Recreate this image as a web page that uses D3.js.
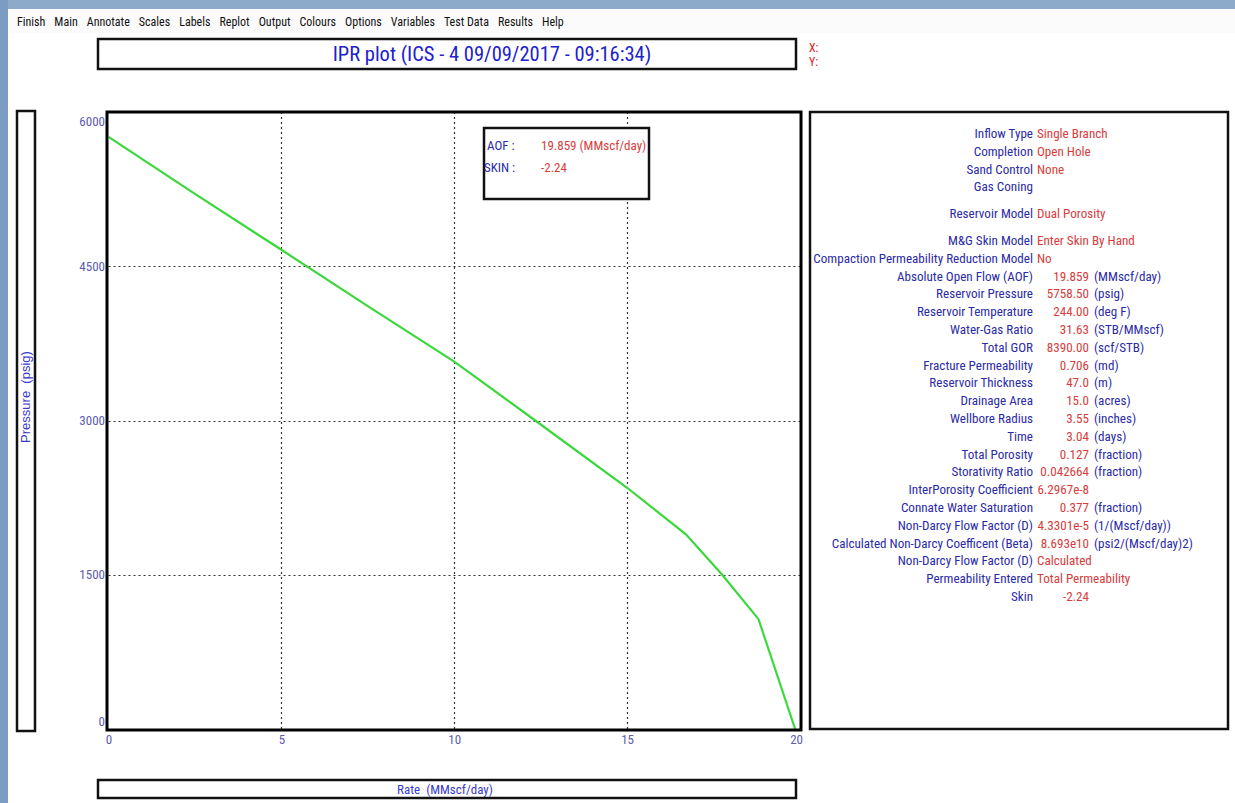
<!DOCTYPE html>
<html>
<head>
<meta charset="utf-8">
<script src="https://cdn.jsdelivr.net/npm/d3@7"></script>
<style>
  body { margin: 0; background: #fff; }
  svg { display: block; }
</style>
</head>
<body>
<svg width="1235" height="803"></svg>
<script>
// IPR curve
const rates = [0, 2.5, 5.0, 7.5, 10.0, 12.5, 15.0, 16.7, 17.75, 18.8, 19.859];
const pressures = [5758.5, 5204, 4660, 4113, 3573, 2961, 2346, 1893, 1500, 1068, 0];

const xTicks = [0, 5, 10, 15, 20];
const yTicks = [0, 1500, 3000, 4500, 6000];

const menuItems = ['Finish', 'Main', 'Annotate', 'Scales', 'Labels', 'Replot', 'Output',
  'Colours', 'Options', 'Variables', 'Test Data', 'Results', 'Help'];

const legendLabels = ['AOF :', 'SKIN :'];
const legendValues = ['19.859 (MMscf/day)', '-2.24'];

// side panel: label, value, unit ('' = none); kind 't' = text value, 'n' = numeric
const infoLabels = ['Inflow Type', 'Completion', 'Sand Control', 'Gas Coning', 'Reservoir Model',
  'M&G Skin Model', 'Compaction Permeability Reduction Model', 'Absolute Open Flow (AOF)',
  'Reservoir Pressure', 'Reservoir Temperature', 'Water-Gas Ratio', 'Total GOR',
  'Fracture Permeability', 'Reservoir Thickness', 'Drainage Area', 'Wellbore Radius', 'Time',
  'Total Porosity', 'Storativity Ratio', 'InterPorosity Coefficient', 'Connate Water Saturation',
  'Non-Darcy Flow Factor (D)', 'Calculated Non-Darcy Coefficent (Beta)', 'Non-Darcy Flow Factor (D)',
  'Permeability Entered', 'Skin'];
const infoValues = ['Single Branch', 'Open Hole', 'None', '', 'Dual Porosity', 'Enter Skin By Hand', 'No',
  '19.859', '5758.50', '244.00', '31.63', '8390.00', '0.706', '47.0', '15.0', '3.55', '3.04', '0.127',
  '0.042664', '6.2967e-8', '0.377', '4.3301e-5', '8.693e10', 'Calculated', 'Total Permeability', '-2.24'];
const infoUnits = ['', '', '', '', '', '', '', '(MMscf/day)', '(psig)', '(deg F)', '(STB/MMscf)', '(scf/STB)',
  '(md)', '(m)', '(acres)', '(inches)', '(days)', '(fraction)', '(fraction)', '', '(fraction)',
  '(1/(Mscf/day))', '(psi2/(Mscf/day)2)', '', '', ''];
const infoKinds = ['t', 't', 't', 't', 't', 't', 't', 'n', 'n', 'n', 'n', 'n', 'n', 'n', 'n', 'n', 'n', 'n',
  'n', 'n', 'n', 'n', 'n', 't', 't', 'n'];

const svg = d3.select('svg');
const narrow = "'Liberation Sans Narrow', 'Arial Narrow', 'Roboto Condensed', sans-serif";
const blue = '#2b2ba6';
const red = '#d83c3c';
const tickBlue = '#5c5cb2';

// window chrome
svg.append('rect').attr('x', 0).attr('y', 0).attr('width', 1235).attr('height', 9).attr('fill', '#8eaacb');
svg.append('rect').attr('x', 0).attr('y', 9).attr('width', 1235).attr('height', 24).attr('fill', '#fbfbfb');
svg.append('rect').attr('x', 0).attr('y', 0).attr('width', 8).attr('height', 803).attr('fill', '#7c9dc3');

let mx = 17;
const menu = svg.append('g').attr('font-family', narrow).attr('font-size', 12).attr('fill', '#111');
menuItems.forEach(m => {
  const t = menu.append('text').attr('x', mx).attr('y', 26).text(m);
  mx += t.node().getComputedTextLength() + 9;
});

// title box
svg.append('rect').attr('x', 98).attr('y', 39).attr('width', 698).attr('height', 30)
  .attr('fill', 'none').attr('stroke', '#111').attr('stroke-width', 2.5);
svg.append('text').attr('x', 492).attr('y', 61).attr('text-anchor', 'middle')
  .attr('font-family', narrow).attr('font-size', 20.5).attr('fill', '#2020cc')
  .text('IPR plot (ICS - 4 09/09/2017 - 09:16:34)');
svg.append('text').attr('x', 809).attr('y', 52).attr('font-family', narrow).attr('font-size', 12)
  .attr('fill', '#e02020').text('X:');
svg.append('text').attr('x', 809).attr('y', 66).attr('font-family', narrow).attr('font-size', 12)
  .attr('fill', '#e02020').text('Y:');

// axis label boxes
svg.append('rect').attr('x', 17).attr('y', 111).attr('width', 18).attr('height', 620)
  .attr('fill', 'none').attr('stroke', '#111').attr('stroke-width', 2.5);
svg.append('text').attr('transform', 'translate(30,397) rotate(-90)').attr('text-anchor', 'middle')
  .attr('font-family', 'Liberation Sans, Arial, sans-serif').attr('font-size', 13).attr('fill', '#3a3acc')
  .attr('xml:space', 'preserve').text('Pressure  (psig)');

svg.append('rect').attr('x', 98).attr('y', 780).attr('width', 698).attr('height', 18)
  .attr('fill', 'none').attr('stroke', '#111').attr('stroke-width', 2.5);
svg.append('text').attr('x', 445).attr('y', 794).attr('text-anchor', 'middle')
  .attr('font-family', narrow).attr('font-size', 13).attr('fill', '#3a3acc')
  .attr('xml:space', 'preserve').text('Rate  (MMscf/day)');

// plot
const xScale = d3.scaleLinear().domain([0, 20]).range([108.5, 800]);
const yScale = d3.scaleLinear().domain([0, 6000]).range([729, 112]);

const grid = svg.append('g').attr('stroke', '#333').attr('stroke-width', 1.2).attr('stroke-dasharray', '2,3');
grid.selectAll('.gx').data(xTicks.filter(d => d > 0 && d < 20)).enter().append('line')
  .attr('x1', d => Math.round(xScale(d)) + 0.5).attr('x2', d => Math.round(xScale(d)) + 0.5)
  .attr('y1', yScale(6000)).attr('y2', yScale(0));
grid.selectAll('.gy').data(yTicks.filter(d => d > 0 && d < 6000)).enter().append('line')
  .attr('y1', d => Math.round(yScale(d)) + 0.5).attr('y2', d => Math.round(yScale(d)) + 0.5)
  .attr('x1', xScale(0)).attr('x2', xScale(20));

const line = d3.line().x((d, i) => xScale(rates[i])).y(d => yScale(d));
svg.append('path').datum(pressures).attr('d', line)
  .attr('fill', 'none').attr('stroke', '#3ad83a').attr('stroke-width', 2.2);

svg.append('rect').attr('x', 107).attr('y', 112).attr('width', 694).attr('height', 618)
  .attr('fill', 'none').attr('stroke', '#000').attr('stroke-width', 3);

const yAxis = svg.append('g').attr('transform', 'translate(105,0)')
  .call(d3.axisLeft(yScale).tickValues(yTicks).tickSize(0).tickPadding(0).tickFormat(d3.format('d')));
yAxis.select('.domain').remove();
yAxis.selectAll('text').attr('font-family', narrow).attr('font-size', 13).attr('fill', tickBlue)
  .attr('dy', d => d === 6000 ? '1.0em' : d === 0 ? '-0.25em' : '0.32em');

const xAxis = svg.append('g').attr('transform', 'translate(0,735)')
  .call(d3.axisBottom(xScale).tickValues(xTicks).tickSize(0).tickPadding(0).tickFormat(d3.format('d')));
xAxis.select('.domain').remove();
xAxis.selectAll('text').attr('font-family', narrow).attr('font-size', 13).attr('fill', tickBlue)
  .attr('dx', d => d === 20 ? '-0.3em' : 0);

// legend box
svg.append('rect').attr('x', 484).attr('y', 128).attr('width', 165).attr('height', 71)
  .attr('fill', '#fff').attr('stroke', '#111').attr('stroke-width', 2.5);
const leg = svg.append('g').attr('font-family', narrow).attr('font-size', 13);
leg.selectAll('.ll').data(legendLabels).enter().append('text')
  .attr('x', (d, i) => i === 0 ? 487 : 484).attr('y', (d, i) => 150 + i * 22)
  .attr('fill', blue).text(d => d);
leg.selectAll('.lv').data(legendValues).enter().append('text')
  .attr('x', 541).attr('y', (d, i) => 150 + i * 22)
  .attr('fill', red).text(d => d);

// side panel
svg.append('rect').attr('x', 810).attr('y', 112).attr('width', 418).attr('height', 617)
  .attr('fill', 'none').attr('stroke', '#111').attr('stroke-width', 2.5);
const rowH = 17.8;
const rowY = i => 138 + i * rowH + (i > 3 ? 9 : 0) + (i > 4 ? 9 : 0);
const panel = svg.append('g').attr('font-family', narrow).attr('font-size', 13.1);
panel.selectAll('.il').data(infoLabels).enter().append('text')
  .attr('x', 1033).attr('y', (d, i) => rowY(i)).attr('text-anchor', 'end')
  .attr('fill', blue).text(d => d);
panel.selectAll('.iv').data(infoValues).enter().append('text')
  .attr('x', (d, i) => infoKinds[i] === 'n' ? 1089 : 1037).attr('y', (d, i) => rowY(i))
  .attr('text-anchor', (d, i) => infoKinds[i] === 'n' ? 'end' : 'start')
  .attr('fill', red).text(d => d);
panel.selectAll('.iu').data(infoUnits).enter().append('text')
  .attr('x', 1094).attr('y', (d, i) => rowY(i))
  .attr('fill', blue).text(d => d);
</script>
</body>
</html>
